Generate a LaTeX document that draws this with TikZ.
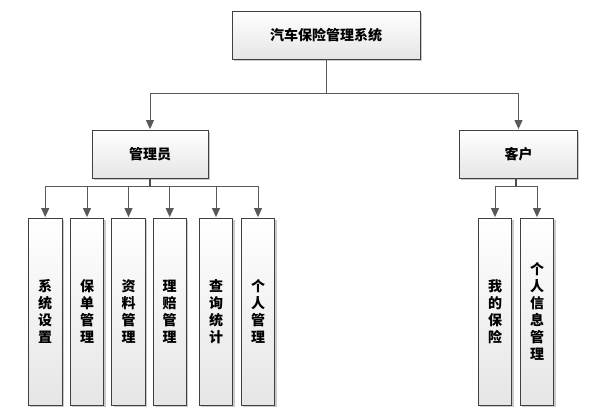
\documentclass[tikz,border=0pt]{standalone}
\usepackage{fontspec}
\newfontfamily\cjk{Noto Sans CJK SC}
\usetikzlibrary{shadows,arrows.meta}
\begin{document}
\begin{tikzpicture}[x=1pt,y=-1pt,
  box/.style={draw=black!75, line width=0.8pt, top color=white, bottom color=black!10,
    drop shadow={shadow xshift=1.8pt, shadow yshift=-1.8pt, fill=black!35, opacity=0.6},
    inner sep=0pt, font=\cjk\bfseries\fontsize{14}{17}\selectfont, align=center},
  wide/.style={box, minimum width=#1, minimum height=48pt},
  tall/.style={box, minimum width=33.5pt, minimum height=187pt},
  link/.style={draw=black!65, line width=1pt},
  trunk/.style={draw=black!70, line width=1.6pt},
  arr/.style={link, -{Triangle[length=9pt,width=8pt]}, shorten >=0.5pt}]
\useasboundingbox (0,0) rectangle (597,409);
\node[wide=188pt] (top) at (326,35) {汽车保险管理系统};
\node[wide=116pt] (admin) at (150,154) {管理员};
\node[wide=118pt] (cust) at (518.5,154) {客户};
\node[tall] (a1) at (45.2,311.5) {系\\统\\设\\置};
\node[tall] (a2) at (87,311.5) {保\\单\\管\\理};
\node[tall] (a3) at (128.5,311.5) {资\\料\\管\\理};
\node[tall] (a4) at (169.7,311.5) {理\\赔\\管\\理};
\node[tall] (a5) at (216,311.5) {查\\询\\统\\计};
\node[tall] (a6) at (258,311.5) {个\\人\\管\\理};
\node[tall] (c1) at (495,311.5) {我\\的\\保\\险};
\node[tall] (c2) at (537,311.5) {个\\人\\信\\息\\管\\理};
\coordinate (b0) at (326,94);
\coordinate (b1) at (150,186);
\coordinate (b2) at (516,186);
\draw[link] (top.south) -- (b0);
\draw[arr] (b0) -| (admin.north);
\draw[arr] (b0) -| (cust.north);
\draw[trunk] (admin.south) -- (b1);
\foreach \n in {a1,a2,a3,a4,a5,a6} \draw[arr] (b1) -| (\n.north);
\draw[trunk] (cust.south -| b2) -- (b2);
\foreach \n in {c1,c2} \draw[arr] (b2) -| (\n.north);
\end{tikzpicture}
\end{document}
